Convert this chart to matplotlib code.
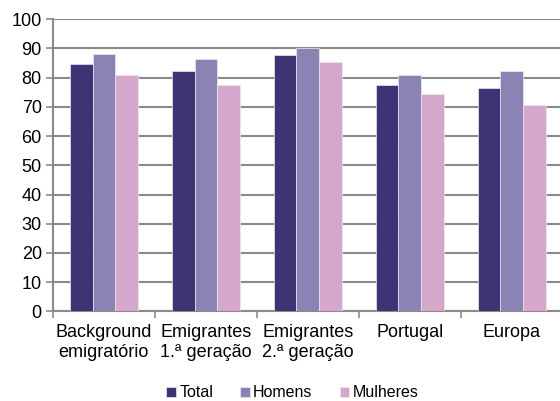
import numpy as np
import matplotlib.pyplot as plt

plt.rcParams['font.family'] = ['Liberation Sans', 'DejaVu Sans']

categorias = ["Background\nemigratório", "Emigrantes\n1.ª geração", "Emigrantes\n2.ª geração",
              "Portugal", "Europa"]
series = ["Total", "Homens", "Mulheres"]
total = [84.5, 82.1, 87.7, 77.5, 76.3]
homens = [88.0, 86.4, 90.2, 81.0, 82.2]
mulheres = [80.9, 77.4, 85.2, 74.4, 70.5]
cores = ["#3e3375", "#8b83b3", "#d6a7ca"]

fig = plt.figure(figsize=(5.6, 4.01), dpi=100)
ax = fig.add_axes([0.0946, 0.2232, 0.91, 0.7294])

x = np.arange(len(categorias))
w = 0.222
for i, (vals, nome) in enumerate(zip([total, homens, mulheres], series)):
    ax.bar(x + (i - 1) * w, vals, w, color=cores[i], label=nome,
           edgecolor="#ece8f0", linewidth=0.5, zorder=3)

ax.set_xlim(-0.5, len(categorias) - 0.5)
ax.set_ylim(0, 100)
ax.set_yticks(range(0, 101, 10))
ax.yaxis.grid(True, color="#8a8a8a", linewidth=1.5, zorder=0)

ax.set_xticks(x)
ax.set_xticklabels(categorias, fontsize=13, linespacing=1.2)
ax.set_xticks(np.arange(-0.5, len(categorias), 1), minor=True)
ax.tick_params(axis="x", which="major", length=0, pad=9)
ax.tick_params(axis="x", which="minor", length=5, color="#8a8a8a", width=1.2)
ax.tick_params(axis="y", labelsize=13, length=5, color="#8a8a8a", width=1.2, pad=3)

for s in ["top", "right"]:
    ax.spines[s].set_visible(False)
for s in ["left", "bottom"]:
    ax.spines[s].set_color("#8a8a8a")
    ax.spines[s].set_linewidth(1.5)

leg = fig.legend(loc="center", bbox_to_anchor=(0.522, 0.02), ncol=3, frameon=False,
                 fontsize=11.5, handlelength=0.6, handleheight=0.6, handletextpad=0.2,
                 columnspacing=1.7)

fig.savefig("out.png", dpi=100)
